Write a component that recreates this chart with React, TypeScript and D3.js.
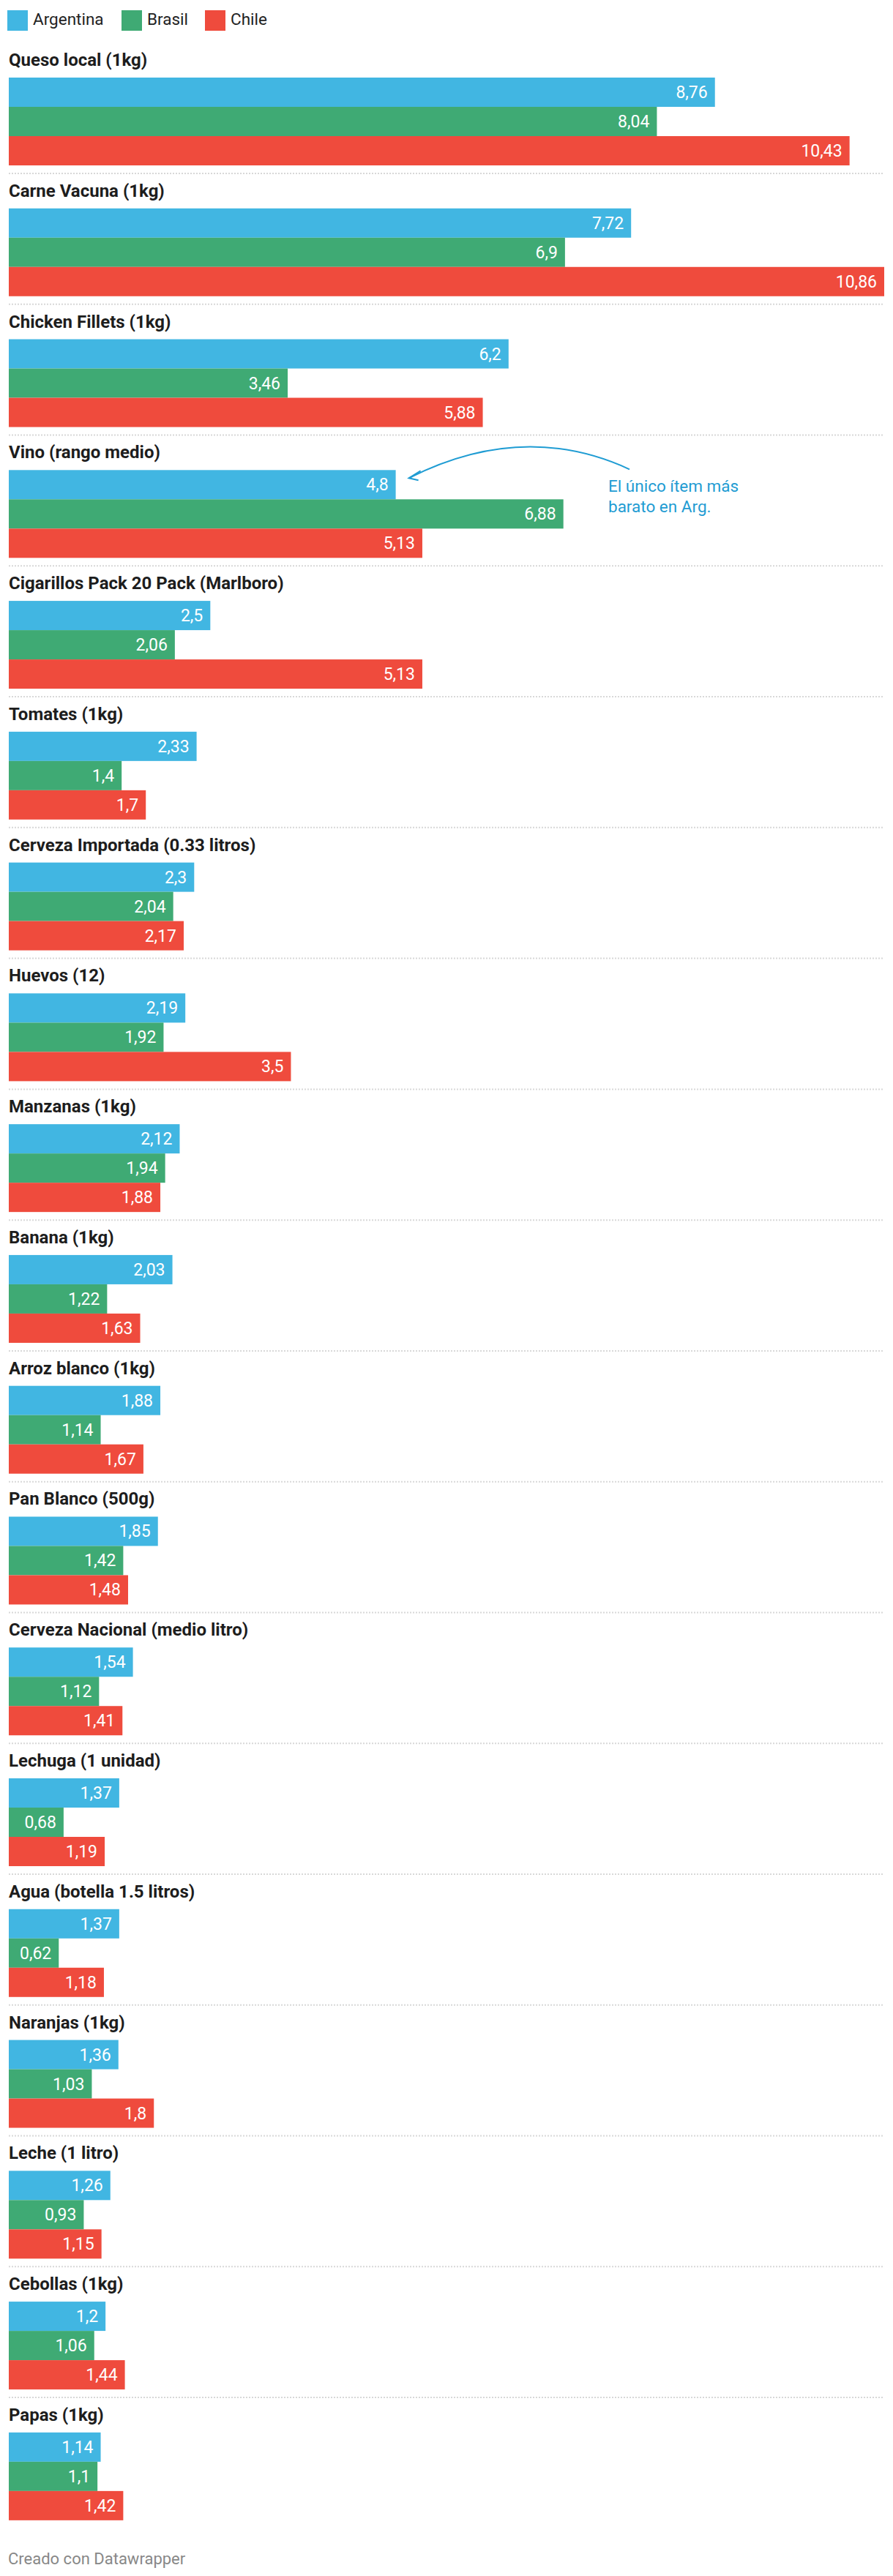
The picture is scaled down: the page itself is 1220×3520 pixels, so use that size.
import React from "react";
import * as d3 from "d3";

const categories = [
  "Queso local (1kg)",
  "Carne Vacuna (1kg)",
  "Chicken Fillets (1kg)",
  "Vino (rango medio)",
  "Cigarillos Pack 20 Pack (Marlboro)",
  "Tomates (1kg)",
  "Cerveza Importada (0.33 litros)",
  "Huevos (12)",
  "Manzanas (1kg)",
  "Banana (1kg)",
  "Arroz blanco (1kg)",
  "Pan Blanco (500g)",
  "Cerveza Nacional (medio litro)",
  "Lechuga (1 unidad)",
  "Agua (botella 1.5 litros)",
  "Naranjas (1kg)",
  "Leche (1 litro)",
  "Cebollas (1kg)",
  "Papas (1kg)",
];

const argentina = [8.76, 7.72, 6.2, 4.8, 2.5, 2.33, 2.3, 2.19, 2.12, 2.03, 1.88, 1.85, 1.54, 1.37, 1.37, 1.36, 1.26, 1.2, 1.14];
const brasil = [8.04, 6.9, 3.46, 6.88, 2.06, 1.4, 2.04, 1.92, 1.94, 1.22, 1.14, 1.42, 1.12, 0.68, 0.62, 1.03, 0.93, 1.06, 1.1];
const chile = [10.43, 10.86, 5.88, 5.13, 5.13, 1.7, 2.17, 3.5, 1.88, 1.63, 1.67, 1.48, 1.41, 1.19, 1.18, 1.8, 1.15, 1.44, 1.42];

const seriesNames = ["Argentina", "Brasil", "Chile"];
const seriesColors = ["#41b6e2", "#3faa74", "#ef4b3d"];
const seriesValues = [argentina, brasil, chile];

const annotationLines = ["El único ítem más", "barato en Arg."];
const annotationIndex = 3;
const footer = "Creado con Datawrapper";

const W = 1220;
const H = 3520;
const FONT = "Roboto, 'Noto Sans', sans-serif";

export default function App() {
  const maxV = d3.max(seriesValues.flat()) as number;
  const x = d3.scaleLinear().domain([0, maxV]).range([12, 1208]);
  const groupTop = d3
    .scaleLinear()
    .domain([0, categories.length - 1])
    .range([106, 106 + 178.77 * (categories.length - 1)]);
  const band = d3.scaleBand<string>().domain(seriesNames).range([0, 120]).padding(0);
  const fmt = (v: number) => String(v).replace(".", ",");

  const aTop = groupTop(annotationIndex);
  const aEnd = x(argentina[annotationIndex]);
  const tipX = aEnd + 18;
  const tipY = aTop + 11;

  return (
    <svg
      width={W}
      height={H}
      style={{ position: "absolute", left: 0, top: 0, background: "#fff" }}
      fontFamily={FONT}
    >
      {/* legend */}
      {seriesNames.map((s, i) => {
        const lx = [10, 166, 280][i];
        return (
          <g key={s}>
            <rect x={lx} y={14} width={28} height={28} fill={seriesColors[i]} />
            <text x={lx + 35} y={33.5} fontSize={22.5} fill="#222">
              {s}
            </text>
          </g>
        );
      })}

      {categories.map((c, gi) => {
        const top = groupTop(gi);
        return (
          <g key={c}>
            <text x={12} y={top - 16} fontSize={24} fontWeight={700} fill="#1d1d1d">
              {c}
            </text>
            {seriesNames.map((s, si) => {
              const v = seriesValues[si][gi];
              const by = top + (band(s) as number);
              const bw = band.bandwidth();
              return (
                <g key={s}>
                  <rect x={x(0)} y={by} width={x(v) - x(0)} height={bw} fill={seriesColors[si]} />
                  <text
                    x={x(v) - 10}
                    y={by + bw / 2 + 8}
                    fontSize={23}
                    fill="#fff"
                    textAnchor="end"
                  >
                    {fmt(v)}
                  </text>
                </g>
              );
            })}
            {gi < categories.length - 1 && (
              <line
                x1={12}
                x2={1208}
                y1={top + 131}
                y2={top + 131}
                stroke="#d8d8d8"
                strokeWidth={2}
                strokeDasharray="2,2"
              />
            )}
          </g>
        );
      })}

      {/* annotation */}
      <g>
        <path
          d={`M860,${aTop - 1} Q715,${aTop - 68} ${tipX},${tipY}`}
          fill="none"
          stroke="#1f9cd3"
          strokeWidth={2}
        />
        <path
          d={`M${tipX + 16},${tipY - 10} L${tipX},${tipY} L${tipX + 13},${tipY + 3}`}
          fill="none"
          stroke="#1f9cd3"
          strokeWidth={2}
        />
        {annotationLines.map((l, i) => (
          <text key={l} x={831} y={aTop + 29.5 + i * 28.5} fontSize={22.5} fill="#1f9cd3">
            {l}
          </text>
        ))}
      </g>

      <text x={11} y={3504} fontSize={22} fill="#888">
        {footer}
      </text>
    </svg>
  );
}
